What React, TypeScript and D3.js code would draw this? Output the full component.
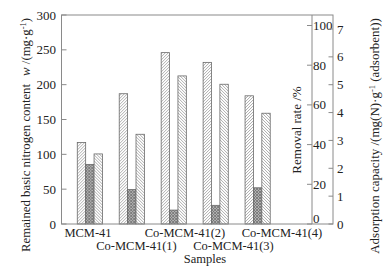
import React from "react";
import * as d3 from "d3";

const categories = ["MCM-41", "Co-MCM-41(1)", "Co-MCM-41(2)", "Co-MCM-41(3)", "Co-MCM-41(4)"];
const remainedN = [117, 187, 246, 232, 184];
const adsorption = [2.14, 1.24, 0.5, 0.67, 1.3];
const removal = [35.3, 45.2, 74.6, 70.4, 55.8];
const leftTicks = [0, 50, 100, 150, 200, 250, 300];
const removalTicks = [0, 20, 40, 60, 80, 100];
const adsTicks = [0, 1, 2, 3, 4, 5, 6, 7];
const seriesKeys = ["remained", "adsorption", "removal"];

const W = 385, H = 269;
const L = 61.5, R = 333, T = 15, B = 224;
const RA = 312;
const FONT = "'Liberation Serif', 'Times New Roman', serif";
const TXT = "#222";
const AX = "#8a8a8a";
const FS = 13;
const XFS = 12.5;

export default function App() {
  const x = d3.scaleBand().domain(categories).range([60.5, 287]).paddingInner(0.4).paddingOuter(0.4);
  const sub = d3.scaleBand().domain(seriesKeys).range([0, x.bandwidth()]);
  const xl = d3.scalePoint().domain(categories).range([88, 282]);
  const yL = d3.scaleLinear().domain([0, 300]).range([B, T]);
  const yR = d3.scaleLinear().domain([0, 100]).range([B, 25.5]);
  const yA = d3.scaleLinear().domain([0, 7]).range([B, 29]);

  const series = [
    { key: "remained", vals: remainedN, y: yL, fill: "url(#hA)" },
    { key: "adsorption", vals: adsorption, y: yA, fill: "url(#hB)" },
    { key: "removal", vals: removal, y: yR, fill: "url(#hC)" },
  ];

  return (
    <svg width={W} height={H} style={{ position: "fixed", left: 0, top: 0, background: "#fff" }} fontFamily={FONT}>
      <defs>
        <pattern id="hA" patternUnits="userSpaceOnUse" width={3} height={3}>
          <rect width={3} height={3} fill="#fff" />
          <path d="M-1,1 l2,-2 M0,3 l3,-3 M2,4 l2,-2" stroke="#888" strokeWidth={0.7} />
        </pattern>
        <pattern id="hC" patternUnits="userSpaceOnUse" width={3} height={3}>
          <rect width={3} height={3} fill="#fff" />
          <path d="M-1,2 l2,2 M0,0 l3,3 M2,-1 l2,2" stroke="#888" strokeWidth={0.7} />
        </pattern>
        <pattern id="hB" patternUnits="userSpaceOnUse" width={3} height={3}>
          <rect width={3} height={3} fill="#b4b4b4" />
          <path d="M-1,1 l2,-2 M0,3 l3,-3 M2,4 l2,-2 M-1,2 l2,2 M0,0 l3,3 M2,-1 l2,2" stroke="#666" strokeWidth={0.7} />
        </pattern>
      </defs>

      {/* bars */}
      {categories.map((c, i) => (
        <g key={c} transform={`translate(${x(c)},0)`}>
          {series.map((s) => (
            <rect
              key={s.key}
              x={sub(s.key)}
              y={s.y(s.vals[i])}
              width={sub.bandwidth()}
              height={B - s.y(s.vals[i])}
              fill={s.fill}
              stroke="#6a6a6a"
              strokeWidth={0.8}
            />
          ))}
        </g>
      ))}

      {/* frame */}
      <rect x={L} y={T} width={R - L} height={B - T} fill="none" stroke={AX} strokeWidth={1} />
      <line x1={RA} x2={RA} y1={T} y2={B} stroke={AX} strokeWidth={1} />

      {/* left axis */}
      {leftTicks.map((t) => (
        <g key={"l" + t}>
          <line x1={L} x2={L + 5} y1={yL(t)} y2={yL(t)} stroke={AX} />
          <text x={56} y={yL(t)} dy="0.35em" textAnchor="end" fontSize={FS} fill={TXT}>{t}</text>
        </g>
      ))}

      {/* removal axis */}
      {removalTicks.map((t) => (
        <g key={"r" + t}>
          <line x1={RA - 5} x2={RA} y1={yR(t)} y2={yR(t)} stroke={AX} />
          <text x={313} y={yR(t)} dy={t === 0 ? "-0.1em" : "0.35em"} textAnchor="start" fontSize={FS} fill={TXT}>{t}</text>
        </g>
      ))}

      {/* adsorption axis */}
      {adsTicks.map((t) => (
        <g key={"a" + t}>
          <line x1={R - 4.5} x2={R} y1={yA(t)} y2={yA(t)} stroke={AX} />
          <text x={337} y={yA(t)} dy="0.35em" textAnchor="start" fontSize={FS} fill={TXT}>{t}</text>
        </g>
      ))}

      {/* x labels */}
      {categories.map((c, i) => (
        <text key={"x" + c} x={xl(c)} y={i % 2 === 0 ? 236.5 : 249.5} textAnchor="middle" fontSize={XFS} fill={TXT}>{c}</text>
      ))}
      <text x={205} y={263} textAnchor="middle" fontSize={XFS} fill={TXT}>Samples</text>

      {/* axis titles */}
      <text transform="translate(30,135) rotate(-90)" textAnchor="middle" fontSize={12.8} fill={TXT}>
        Remained basic nitrogen content<tspan dx={8} fontStyle="italic">w</tspan>
        <tspan> /(mg·g</tspan>
        <tspan dy={-4} fontSize={8.5}>-1</tspan>
        <tspan dy={4}>)</tspan>
      </text>
      <text transform="translate(301,130) rotate(-90)" textAnchor="middle" fontSize={13} fill={TXT}>
        Removal rate /%
      </text>
      <text transform="translate(379,136) rotate(-90)" textAnchor="middle" fontSize={13} fill={TXT}>
        Adsorption capacity /(mg(N)·g<tspan dy={-4} fontSize={8.5}>-1</tspan>
        <tspan dy={4}> (adsorbent))</tspan>
      </text>
    </svg>
  );
}
